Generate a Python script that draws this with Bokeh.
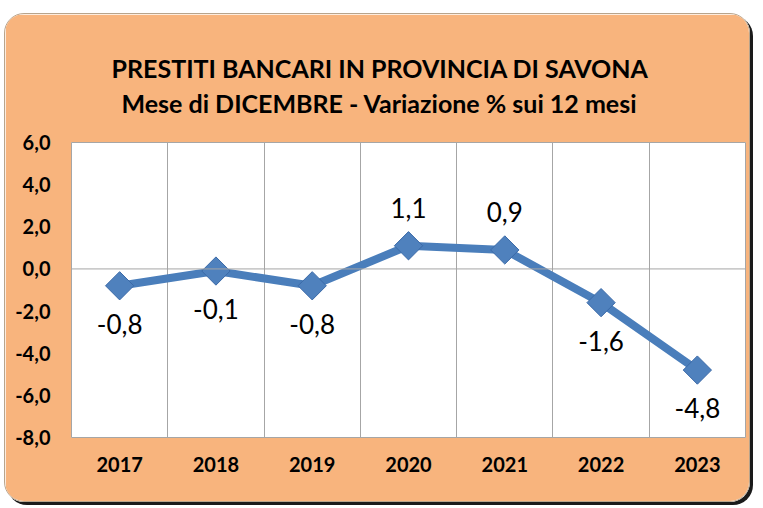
from bokeh.plotting import figure
from bokeh.models import Title, Span, FixedTicker, Range1d
from bokeh.core.properties import value
from bokeh.embed import file_html
from bokeh.resources import INLINE

years = [2017, 2018, 2019, 2020, 2021, 2022, 2023]
values = [-0.8, -0.1, -0.8, 1.1, 0.9, -1.6, -4.8]
y_ticks = [-8, -6, -4, -2, 0, 2, 4, 6]
title1 = "PRESTITI BANCARI IN PROVINCIA DI SAVONA"
title2 = "Mese di DICEMBRE - Variazione % sui 12 mesi"

def fmt(v):
    return f"{v:.1f}".replace(".", ",")

ORANGE = "#F8B47D"
BLUE = "#4A7EBB"
FONT = "Lato"

p = figure(width=746, height=489, output_backend="svg", toolbar_location=None,
           x_range=Range1d(years[0] - 0.5, years[-1] + 0.5),
           y_range=Range1d(min(y_ticks), max(y_ticks)),
           min_border_left=66, min_border_right=6, min_border_top=128, min_border_bottom=66)
p.styles = {"border-radius": "20px", "overflow": "hidden", "position": "relative",
            "left": "4px", "top": "13px",
            "box-shadow": "3px 3px 0px #1a1a1a", "border": "1px solid #B8A48C"}
p.border_fill_color = ORANGE
p.background_fill_color = "white"
p.outline_line_color = "#A6A6A6"
p.outline_line_width = 1
p.title.text = ""

# titles: first added sits nearest the plot
p.add_layout(Title(text=" ", text_font_size="1px", standoff=18), "above")
p.add_layout(Title(text=title2, align="left", offset=50, vertical_align="top",
                   text_font=FONT, text_font_style="bold", text_font_size="25px",
                   text_color="black", standoff=4), "above")
p.add_layout(Title(text=title1, align="left", offset=40, vertical_align="bottom",
                   text_font=FONT, text_font_style="bold", text_font_size="25px",
                   text_color="black", standoff=6), "above")

# grid
p.ygrid.visible = False
p.xgrid.ticker = FixedTicker(ticks=[y + 0.5 for y in years[:-1]])
p.xgrid.grid_line_color = "#A6A6A6"
p.xgrid.grid_line_width = 1
p.add_layout(Span(location=0, dimension="width", line_color="#A6A6A6", line_width=1))

# axes
p.xaxis.ticker = FixedTicker(ticks=years)
p.yaxis.ticker = FixedTicker(ticks=y_ticks)
p.yaxis.major_label_overrides = {t: fmt(t) for t in y_ticks}
for ax in (p.xaxis[0], p.yaxis[0]):
    ax.axis_line_color = None
    ax.major_tick_line_color = None
    ax.minor_tick_line_color = None
    ax.major_label_text_font = FONT
    ax.major_label_text_font_style = "bold"
    ax.major_label_text_font_size = "20px"
    ax.major_label_text_color = "black"
p.xaxis.major_label_standoff = 13
p.yaxis.major_label_standoff = 15

# line and markers
p.line(years, values, line_color=BLUE, line_width=8)
p.scatter(years, values, marker="square", size=20, angle=0.785398,
          fill_color="#4F81BD", line_color="#3B6AA8", line_width=1)

# data labels
pos = [(y, v) for y, v in zip(years, values) if v > 0]
neg = [(y, v) for y, v in zip(years, values) if v <= 0]
p.text([a for a, _ in pos], [b for _, b in pos], text=[fmt(b) for _, b in pos],
       text_font=value(FONT), text_font_size="26px", text_color="black",
       text_align="center", text_baseline="bottom", y_offset=-28)
p.text([a for a, _ in neg], [b for _, b in neg], text=[fmt(b) for _, b in neg],
       text_font=value(FONT), text_font_size="26px", text_color="black",
       text_align="center", text_baseline="top", y_offset=28)

open("out.html", "w").write(file_html(p, INLINE))
